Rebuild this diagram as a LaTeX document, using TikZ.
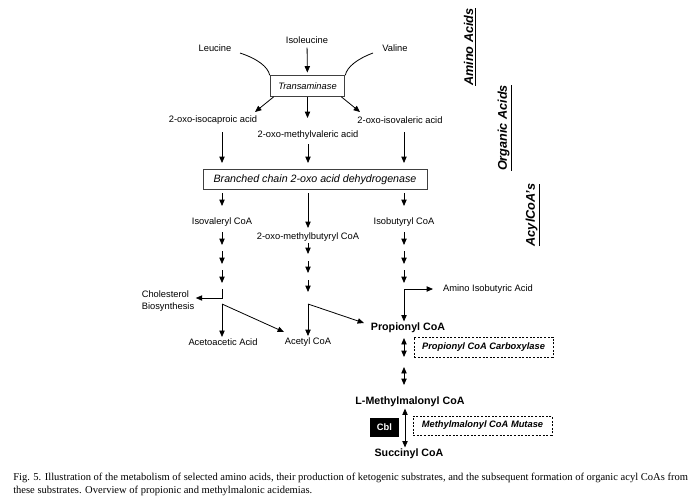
\documentclass[tikz,border=0pt]{standalone}
\usepackage{fontspec}
\setmainfont{Liberation Sans}
\newfontfamily\capfont{Liberation Serif}
\usetikzlibrary{arrows.meta}
\begin{document}
\begin{tikzpicture}[x=0.75pt,y=-0.75pt,
  lbl/.style={font=\fontsize{7}{8.4}\selectfont, inner sep=1pt},
  blbl/.style={font=\fontsize{8}{9.6}\selectfont\bfseries, inner sep=1pt},
  side/.style={font=\fontsize{9.5}{11}\selectfont\bfseries\itshape, rotate=90, inner sep=1pt},
  enzbox/.style={draw=black!75, line width=0.7pt, inner sep=0pt, font=\itshape},
  dashbox/.style={draw, dashed, line width=0.5pt, dash pattern=on 1.5pt off 1.2pt, inner sep=0pt, font=\fontsize{7}{8.4}\selectfont\bfseries\itshape},
  arr/.style={line width=0.6pt, -{Triangle[length=4.8pt,width=4pt]}},
  darr/.style={line width=0.6pt, {Triangle[length=4.8pt,width=4pt]}-{Triangle[length=4.8pt,width=4pt]}},
  ln/.style={line width=0.6pt}
]
\useasboundingbox[fill=white] (0,0) rectangle (697,497);

% side labels
\node[side] (sAA) at (470,47) {\underline{Amino Acids}};
\node[side] (sOA) at (505,128) {\underline{Organic Acids}};
\node[side] (sAC) at (533,215) {\underline{AcylCoA's}};

% amino acids
\node[lbl] (leu) at (215,48) {Leucine};
\node[lbl] (ile) at (307,40) {Isoleucine};
\node[lbl] (val) at (395,48) {Valine};
\node[enzbox, minimum width=56pt, minimum height=15.5pt, font=\fontsize{7}{8.4}\selectfont\itshape] (trans) at (307.5,86) {Transaminase};

\coordinate (leuS) at (240,53);
\coordinate (valS) at (373,53);
\draw[ln] (leuS) .. controls (258,59) and (268,67) .. (trans.north west);
\draw[ln] (valS) .. controls (357,59) and (347,67) .. (trans.north east);
\draw[arr, shorten <=2pt, shorten >=2pt] (ile) -- (trans);

% organic acids
\node[lbl] (icap) at (213,120) {2-oxo-isocaproic acid};
\node[lbl] (ival) at (400,120) {2-oxo-isovaleric acid};
\node[lbl] (mval) at (308,135) {2-oxo-methylvaleric acid};
\draw[arr] ([xshift=3pt]trans.south west) -- (255,112);
\draw[arr] ([xshift=-3pt]trans.south east) -- (360,112);
\draw[arr] (trans.south) -- (307.5,118);

\node[enzbox, minimum width=168pt, minimum height=15.5pt, font=\fontsize{8}{9.6}\selectfont\itshape] (bcd) at (315,179.5) {Branched chain 2-oxo acid dehydrogenase};
\draw[arr] (222,132) -- (222,163);
\draw[arr] (308,144) -- (308,163);
\draw[arr] (404,132) -- (404,163);

% acyl CoAs
\node[lbl] (ivcoa) at (222,222) {Isovaleryl CoA};
\node[lbl] (mbcoa) at (308,237) {2-oxo-methylbutyryl CoA};
\node[lbl] (ibcoa) at (404,222) {Isobutyryl CoA};
\draw[arr] (222,193) -- (222,206);
\draw[arr] (308,193) -- (308,228);
\draw[arr] (404,193) -- (404,206);

% short arrow chains
\foreach \x in {222,404} {
  \draw[arr] (\x,232) -- (\x,245);
  \draw[arr] (\x,251) -- (\x,264);
  \draw[arr] (\x,270) -- (\x,283);
}
\draw[arr] (308,243) -- (308,254);
\draw[arr] (308,261) -- (308,273);
\draw[arr] (308,280) -- (308,292);

% left branch
\node[lbl, align=left, font=\fontsize{7}{9.6}\selectfont] (chol) at (168,301) {Cholesterol\\Biosynthesis};
\coordinate (lc1) at (222,289);
\coordinate (lc2) at (222,298);
\draw[arr] (lc1) -- (lc2) -- (lc2 -| chol.east);
\node[lbl] (aceto) at (223,342) {Acetoacetic Acid};
\node[lbl] (acetyl) at (308,342) {Acetyl CoA};
\coordinate (lc3) at (222,304);
\draw[arr] (lc3) -- (aceto.north -| lc3);
\draw[arr] (lc3) -- (284,332);

% middle branch
\node[blbl] (prop) at (408,328) {Propionyl CoA};
\coordinate (mc1) at (308,304);
\draw[arr] (mc1) -- (acetyl.north -| mc1);
\draw[arr] (mc1) -- (364,323);

% right branch
\node[lbl] (amino) at (488,289) {Amino Isobutyric Acid};
\coordinate (rc1) at (404,289);
\draw[arr] (rc1) -- (433,289);
\draw[arr] (rc1) -- (prop.north -| rc1);

% propionyl -> succinyl
\node[dashbox, minimum width=104pt, minimum height=15pt] (pcc) at (483.5,347) {Propionyl CoA Carboxylase};
\draw[darr] (404,338) -- (404,357);
\draw[darr] (404,367) -- (404,385);
\node[blbl] (mm) at (410,402) {L-Methylmalonyl CoA};
\node[fill=black, text=white, font=\fontsize{7}{8.4}\selectfont\bfseries, minimum width=22pt, minimum height=14pt, inner sep=0pt] (cbl) at (384.5,427.5) {Cbl};
\node[dashbox, minimum width=104pt, minimum height=14.5pt] (mut) at (482.5,425.5) {Methylmalonyl CoA Mutase};
\node[blbl] (succ) at (409,454) {Succinyl CoA};
\draw[darr] (mm.south -| 405,0) -- (succ.north -| 405,0);

% caption
\node[anchor=west, inner sep=0pt, font=\capfont\fontsize{7.9}{9.5}\selectfont] (cap1) at (13,478) {Fig. 5. Illustration of the metabolism of selected amino acids, their production of ketogenic substrates, and the subsequent formation of organic acyl CoAs from};
\node[anchor=west, inner sep=0pt, font=\capfont\fontsize{7.9}{9.5}\selectfont] (cap2) at (13,491) {these substrates. Overview of propionic and methylmalonic acidemias.};
\end{tikzpicture}
\end{document}
